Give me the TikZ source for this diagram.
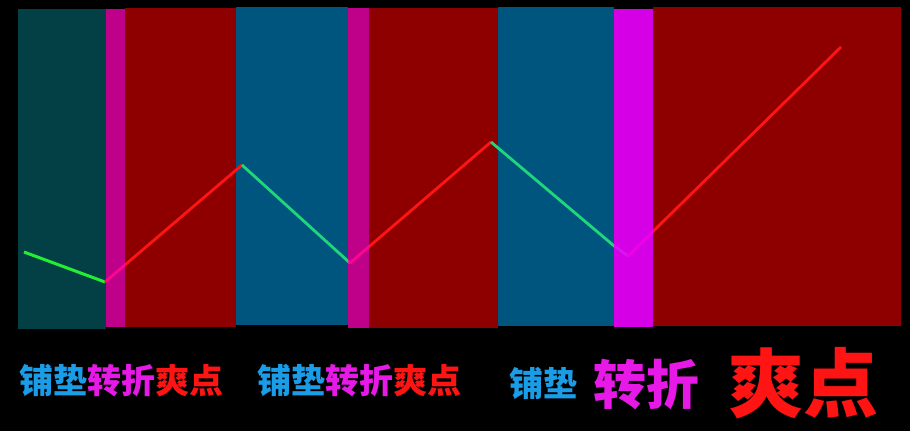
\documentclass[tikz,border=0pt]{standalone}
\usepackage{fontspec}
\newfontfamily\cjk{Noto Sans CJK SC}
\begin{document}
\begin{tikzpicture}[x=1pt,y=-1pt,font=\cjk\bfseries]
\definecolor{teal}{HTML}{034045}\definecolor{navy}{HTML}{00557F}
\definecolor{wine}{HTML}{8E0000}\definecolor{plum}{HTML}{FF00B8}
\definecolor{plumii}{HTML}{EE00FF}\definecolor{grass}{HTML}{22EE33}
\definecolor{mint}{HTML}{1FD67A}\definecolor{scarlet}{HTML}{FF1414}
\definecolor{sky}{HTML}{1A9CE6}\definecolor{pink}{HTML}{E619E6}
\fill[black] (0,0) rectangle (910,431);
\useasboundingbox (0,0) rectangle (910,431);
% panels
\fill[teal] (18,9) rectangle (106,329);
\fill[wine] (125,8) rectangle (236,327);
\fill[navy] (236,7) rectangle (348,325);
\fill[wine] (369,8) rectangle (498,328);
\fill[navy] (498,7) rectangle (614,326);
\fill[wine] (653,7) rectangle (901,326);
% turning points
\coordinate (s) at (24,252);
\coordinate (a) at (105,282);
\coordinate (b) at (242,165);
\coordinate (c) at (350,263);
\coordinate (d) at (491,142);
\coordinate (e) at (613,245);
\coordinate (f) at (628,256);
\coordinate (g) at (841,47);
\draw[grass,line width=3pt] (s) -- (a);
\draw[scarlet,line width=2.8pt] (a) -- (b);
\draw[mint,line width=2.8pt] (b) -- (c);
\draw[scarlet,line width=2.8pt] (c) -- (d);
\draw[mint,line width=2.8pt] (d) -- (e) -- (f);
\draw[scarlet,line width=2.8pt] (f) -- (g);
% turning strips
\fill[plum,opacity=.75] (106,9) rectangle (125,327);
\fill[plum,opacity=.75] (348,8) rectangle (369,328);
\fill[plumii,opacity=.9] (614,9) rectangle (653,327);
% labels
\node[anchor=west,inner sep=0pt,font=\cjk\bfseries\fontsize{34}{34}\selectfont] (t1) at (19,381)
  {\textcolor{sky}{铺垫}\textcolor{pink}{转折}\textcolor{scarlet}{爽点}};
\node[anchor=west,inner sep=0pt,font=\cjk\bfseries\fontsize{34}{34}\selectfont] (t2) at (257,381)
  {\textcolor{sky}{铺垫}\textcolor{pink}{转折}\textcolor{scarlet}{爽点}};
\node[anchor=west,inner sep=0pt,text=sky,font=\cjk\bfseries\fontsize{34}{34}\selectfont] (p3) at (509,383) {铺垫};
\node[anchor=west,inner sep=0pt,text=pink,font=\cjk\bfseries\fontsize{53}{53}\selectfont] (z3) at (593,385) {转折};
\node[anchor=west,inner sep=0pt,text=scarlet,font=\cjk\bfseries\fontsize{75}{75}\selectfont] (s3) at (728,383) {爽点};
\end{tikzpicture}
\end{document}
